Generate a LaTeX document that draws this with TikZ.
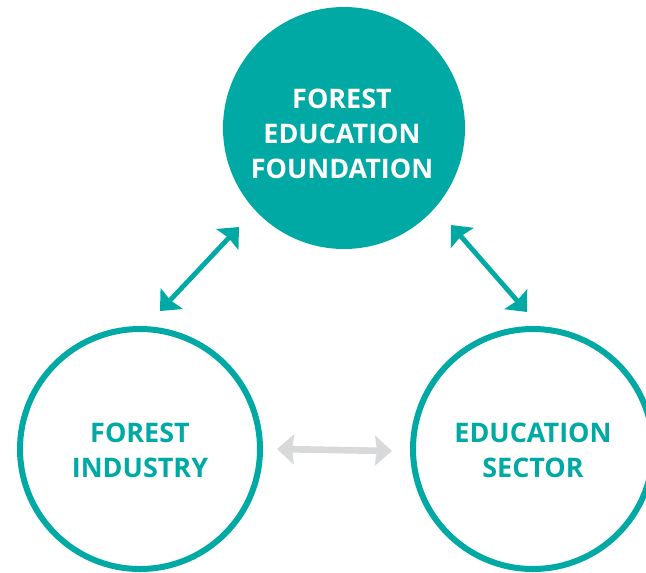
\documentclass[tikz,border=0pt]{standalone}
\usepackage{fontspec}
\setmainfont{Open Sans}
\usetikzlibrary{arrows.meta}
\definecolor{teal1}{RGB}{0,169,164}
\definecolor{gray1}{RGB}{216,217,218}
\begin{document}
\begin{tikzpicture}[x=0.75pt,y=-0.75pt,
  lbl/.style={align=center,font=\fontsize{20.2}{26.25}\selectfont\bfseries,inner sep=0pt},
  ring/.style={circle,draw=teal1,line width=4.5pt,minimum size=180pt,inner sep=0pt},
  tarrow/.style={teal1,line width=3.6pt,{Stealth[length=12.75pt,width=22.5pt,inset=1.5pt]}-{Stealth[length=12.75pt,width=22.5pt,inset=1.5pt]}},
  garrow/.style={gray1,line width=5pt,{Stealth[length=12.75pt,width=22.5pt,inset=1.5pt]}-{Stealth[length=12.75pt,width=22.5pt,inset=1.5pt]}}]
\useasboundingbox (0,0) rectangle (646,572);
\node[circle,fill=teal1,minimum size=181.5pt,inner sep=0pt] (top) at (344,128) {};
\node[lbl,text=white] (toplbl) at (342,134) {FOREST\\EDUCATION\\FOUNDATION};
\node[ring] (left) at (140,449) {};
\node[lbl,text=teal1] (leftlbl) at (140,450) {FOREST\\INDUSTRY};
\node[ring] (right) at (533,449) {};
\node[lbl,text=teal1] (rightlbl) at (533,450) {EDUCATION\\SECTOR};
\coordinate (a1) at (239,227);
\coordinate (a2) at (160,311);
\coordinate (b1) at (451,225);
\coordinate (b2) at (527,312);
\coordinate (c1) at (277,449);
\coordinate (c2) at (392,451);
\draw[tarrow] (a1) -- (a2);
\draw[tarrow] (b1) -- (b2);
\draw[garrow] (c1) -- (c2);
\end{tikzpicture}
\end{document}
